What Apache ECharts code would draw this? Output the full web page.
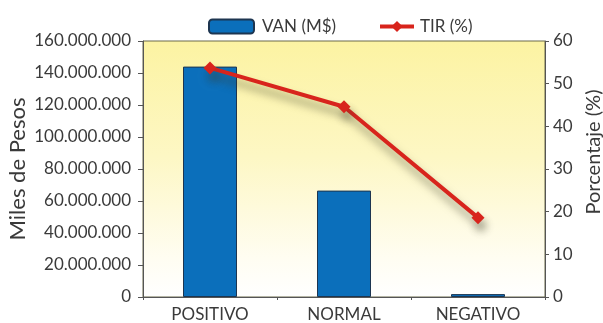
<!DOCTYPE html>
<html>
<head>
<meta charset="utf-8">
<script src="https://cdn.jsdelivr.net/npm/echarts@6/dist/echarts.min.js"></script>
<style>
  html, body { margin: 0; padding: 0; background: #fff; }
  #chart { width: 603px; height: 323px; }
</style>
</head>
<body>
<div id="chart"></div>
<script>
// Escenarios evaluados
const escenarios = ['POSITIVO', 'NORMAL', 'NEGATIVO'];
// VAN en miles de pesos
const van = [144000000, 66500000, 1800000];
// TIR en porcentaje
const tir = [53.7, 44.6, 18.6];
// Ticks
const vanTicks = { min: 0, max: 160000000, interval: 20000000 };
const tirTicks = { min: 0, max: 60, interval: 10 };

const fontFamily = 'Lato, "Open Sans", sans-serif';
const textColor = '#3a3a3a';
const axisColor = '#555';
const red = '#d8241c';

function miles(v) {
  return String(Math.round(v)).replace(/\B(?=(\d{3})+(?!\d))/g, '.');
}

const legendText = { fontSize: 17, color: textColor, fontFamily: fontFamily };

const chart = echarts.init(document.getElementById('chart'), null, { renderer: 'canvas' });
chart.setOption({
  animation: false,
  backgroundColor: '#ffffff',
  textStyle: { fontFamily: fontFamily, color: textColor },
  legend: [
    {
      top: 13,
      left: 203,
      itemWidth: 45,
      itemHeight: 14,
      textStyle: Object.assign({ padding: [0, 0, 0, 3] }, legendText),
      data: ['VAN (M$)']
    },
    {
      top: 13,
      left: 373,
      itemWidth: 34,
      itemHeight: 14,
      lineStyle: { width: 4 },
      textStyle: Object.assign({ padding: [0, 0, 0, 1] }, legendText),
      data: ['TIR (%)']
    }
  ],
  grid: {
    left: 143, right: 58, top: 41, bottom: 26,
    outerBoundsMode: 'none',
    containLabel: false,
    show: true,
    borderColor: '#6b6b4a',
    borderWidth: 1,
    backgroundColor: new echarts.graphic.LinearGradient(0, 0, 0, 1, [
      { offset: 0, color: '#fcf3a2' },
      { offset: 0.45, color: '#fdf7c4' },
      { offset: 0.85, color: '#fffdf2' },
      { offset: 1, color: '#ffffff' }
    ])
  },
  xAxis: {
    type: 'category',
    data: escenarios,
    boundaryGap: true,
    axisLine: { lineStyle: { color: axisColor, width: 1 } },
    axisTick: { show: true, length: 3, lineStyle: { color: axisColor } },
    axisLabel: { fontSize: 17, color: textColor, margin: 9, fontFamily: fontFamily }
  },
  yAxis: [
    {
      type: 'value',
      name: 'Miles de Pesos',
      nameLocation: 'middle',
      nameGap: 114,
      nameRotate: 90,
      nameMoveOverlap: false,
      nameTextStyle: { fontSize: 22, color: textColor, fontFamily: fontFamily },
      min: vanTicks.min, max: vanTicks.max, interval: vanTicks.interval,
      axisLine: { show: true, lineStyle: { color: axisColor } },
      axisTick: { show: true, length: 5, lineStyle: { color: axisColor } },
      axisLabel: { fontSize: 17, color: textColor, margin: 12, formatter: miles, fontFamily: fontFamily },
      splitLine: { show: false }
    },
    {
      type: 'value',
      name: 'Porcentaje (%)',
      nameLocation: 'middle',
      nameGap: 39,
      nameRotate: 90,
      nameMoveOverlap: false,
      nameTextStyle: { fontSize: 20, color: textColor, fontFamily: fontFamily, padding: [0, 0, 0, 34] },
      min: tirTicks.min, max: tirTicks.max, interval: tirTicks.interval,
      axisLine: { show: true, lineStyle: { color: axisColor } },
      axisTick: { show: true, length: 4, lineStyle: { color: axisColor } },
      axisLabel: { fontSize: 17, color: textColor, margin: 8, fontFamily: fontFamily },
      splitLine: { show: false }
    }
  ],
  series: [
    {
      name: 'VAN (M$)',
      type: 'bar',
      data: van,
      yAxisIndex: 0,
      barWidth: 54,
      itemStyle: { color: '#0b6fbb', borderColor: '#1d3550', borderWidth: 1 }
    },
    {
      name: 'TIR (%)',
      type: 'line',
      data: tir,
      yAxisIndex: 1,
      symbol: 'diamond',
      symbolSize: 13,
      lineStyle: {
        color: red, width: 4,
        shadowColor: 'rgba(60,60,40,0.55)', shadowBlur: 9, shadowOffsetX: 3, shadowOffsetY: 8
      },
      itemStyle: {
        color: red, borderWidth: 0,
        shadowColor: 'rgba(60,60,40,0.45)', shadowBlur: 9, shadowOffsetX: 3, shadowOffsetY: 8
      }
    }
  ]
});
</script>
</body>
</html>
